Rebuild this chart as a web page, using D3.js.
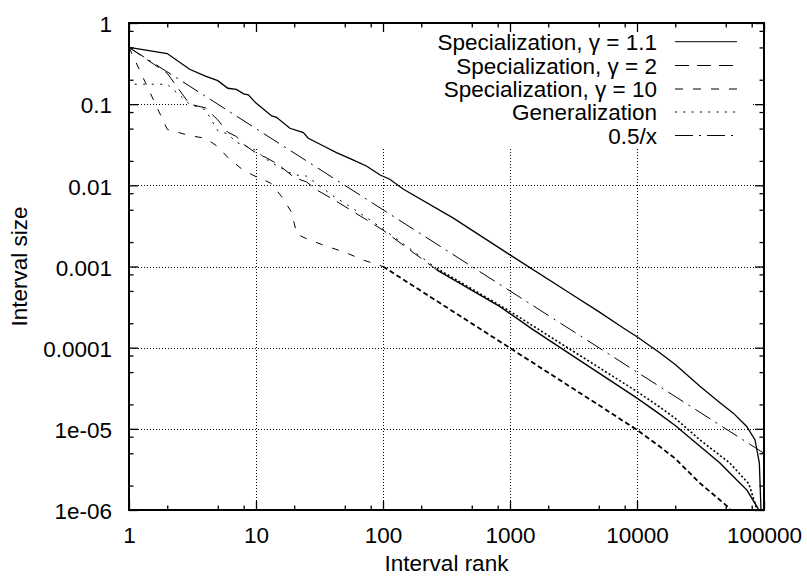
<!DOCTYPE html>
<html>
<head>
<meta charset="utf-8">
<script src="https://cdn.jsdelivr.net/npm/d3@7"></script>
<style>
  body { margin: 0; background: #fff; }
  text { font-family: "Liberation Sans", Arial, Helvetica, sans-serif; }
</style>
</head>
<body>
<div id="chart"></div>
<script>
// ---- data ----
var seriesNames = ["Specialization, \u03b3 = 1.1", "Specialization, \u03b3 = 2",
                   "Specialization, \u03b3 = 10", "Generalization", "0.5/x"];

var rankG11 = [1,2,3,4,5,6,7,8,8.7,10,13.3,14.5,18.5,23.6,25.8,34,43,58,74,95,113,145,358,1000,2966,5000,7800,10000,15000,20000,31300,45000,57300,73100,85000,91900,94700];
var sizeG11 = [0.5,0.42,0.269,0.222,0.195,0.157,0.152,0.134,0.130,0.103,0.0716,0.0688,0.0505,0.0446,0.038,0.0305,0.0253,0.0206,0.0173,0.0134,0.0119,0.00895,0.00394,0.00139,0.000469,0.000278,0.000175,0.000136,0.000087,0.000062,0.0000335,0.000021,0.0000156,0.0000107,0.0000073,0.0000038,0.000001];

var rankG2 = [1,2,3,4,5,6,7,8,10,12,15,20,25,30,40,50,60,80,100,265,834,1527,10000,15000,20000,31300,45000,57300,73100,88000,91000];
var sizeG2 = [0.5,0.24,0.1,0.09,0.064,0.045,0.04,0.032,0.025,0.022,0.018,0.0125,0.011,0.0088,0.0068,0.0055,0.0046,0.0035,0.0028,0.00091,0.00032,0.000166,0.0000239,0.0000153,0.000011,0.0000061,0.0000038,0.00000259,0.00000177,0.0000011,0.000001];

var rankG10 = [1,2,3,4,5,6,8,10,13,16,19,21,25,35,50,70,100,1000,5000,10000,15000,20000,31300,53700,57000];
var sizeG10 = [0.5,0.049,0.041,0.038,0.030,0.022,0.0152,0.0128,0.0107,0.0072,0.0047,0.0025,0.0022,0.0018,0.0015,0.0012,0.001,0.000099,0.0000196,0.0000097,0.0000061,0.0000043,0.00000214,0.00000105,0.0000008];

var rankGen = [1,1,2,3,4,5,6,7,8,10,12,15,20,25,30,40,50,60,80,100,265,1000,10000,15000,20000,31300,53700,76000,86500,89000];
var sizeGen = [0.5,0.176,0.176,0.1,0.085,0.047,0.043,0.034,0.031,0.027,0.021,0.017,0.0135,0.013,0.0105,0.0075,0.006,0.005,0.0037,0.0029,0.00095,0.00028,0.0000288,0.0000187,0.0000135,0.0000073,0.0000038,0.0000021,0.0000011,0.0000009];

var rankRef = [1, 100000];
var sizeRef = [0.5, 0.000005];

var xTicks = [1, 10, 100, 1000, 10000, 100000];
var xTickLabels = ["1", "10", "100", "1000", "10000", "100000"];
var yTicks = [1, 0.1, 0.01, 0.001, 0.0001, 0.00001, 0.000001];
var yTickLabels = ["1", "0.1", "0.01", "0.001", "0.0001", "1e-05", "1e-06"];
var minorSteps = [2, 5, 8];

function init(){
    var w = 807, h = 577;
    var left = 129, right = 764, top = 23, bottom = 510;

    var x = d3.scaleLog().domain([1, 100000]).range([left, right]);
    var y = d3.scaleLog().domain([0.000001, 1]).range([bottom, top]);

    var svg = d3.select("#chart").append("svg")
                .attr("width", w)
                .attr("height", h);

    // minor tick values
    var xMinor = [], yMinor = [];
    xTicks.slice(0, -1).forEach(function(t){ minorSteps.forEach(function(m){ xMinor.push(t*m); }); });
    yTicks.slice(1).forEach(function(t){ minorSteps.forEach(function(m){ yMinor.push(t*m); }); });

    // grid
    var grid = svg.append("g").attr("stroke", "#000").attr("stroke-width", 1)
                  .attr("stroke-dasharray", "1,2");
    xTicks.slice(1, -1).forEach(function(t){
        grid.append("line").attr("x1", Math.round(x(t)) + 0.5).attr("x2", Math.round(x(t)) + 0.5)
            .attr("y1", bottom).attr("y2", top);
    });
    yTicks.slice(1, -1).forEach(function(t){
        grid.append("line").attr("y1", Math.round(y(t)) + 0.5).attr("y2", Math.round(y(t)) + 0.5)
            .attr("x1", left).attr("x2", right);
    });

    // opaque key box (hides grid underneath)
    svg.append("rect").attr("x", 187).attr("y", top).attr("width", 752 - 187).attr("height", 147 - top)
       .attr("fill", "#fff");

    // curves
    svg.append("clipPath").attr("id", "plotclip").append("rect")
       .attr("x", left).attr("y", top).attr("width", right - left).attr("height", bottom - top);

    var line = d3.line().x(function(d){ return x(d[0]); }).y(function(d){ return y(d[1]); });

    var series = [
        {xs: rankG11, ys: sizeG11, split: 0,  dash: null,      denseDash: null,    width: 1.1, denseWidth: 1.3},
        {xs: rankG2,  ys: sizeG2,  split: 19, dash: "14,8",    denseDash: null,    width: 1,   denseWidth: 1.4},
        {xs: rankG10, ys: sizeG10, split: 16, dash: "7,10",    denseDash: "5,3",   width: 1,   denseWidth: 1.8},
        {xs: rankGen, ys: sizeGen, split: 20, dash: "2,6.5",   denseDash: "2,2.2", width: 1,   denseWidth: 1.6},
        {xs: rankRef, ys: sizeRef, split: 1,  dash: "18,6,2,6", denseDash: null,   width: 1,   denseWidth: 1}
    ];

    var curves = svg.append("g").attr("clip-path", "url(#plotclip)")
                    .attr("fill", "none").attr("stroke", "#000");
    series.forEach(function(s){
        var pts = s.xs.map(function(v, i){ return [v, s.ys[i]]; });
        var a = pts.slice(0, s.split + 1), b = pts.slice(s.split);
        if (a.length > 1) {
            curves.append("path").attr("d", line(a)).attr("stroke-width", s.width)
                  .attr("stroke-dasharray", s.dash);
        }
        if (b.length > 1) {
            curves.append("path").attr("d", line(b)).attr("stroke-width", s.denseWidth)
                  .attr("stroke-dasharray", s.denseDash);
        }
    });

    // axes (ticks inward on all four sides)
    function styleAxis(g){
        g.select(".domain").remove();
        g.selectAll("line").attr("stroke", "#000").attr("stroke-width", 1.3);
        g.selectAll("text").attr("font-family", "'Liberation Sans', Arial, Helvetica, sans-serif")
         .attr("font-size", 22.5).attr("fill", "#000");
    }
    svg.append("g").attr("transform", "translate(0," + bottom + ")")
       .call(d3.axisBottom(x).tickValues(xTicks).tickSize(-9).tickPadding(17)
                .tickFormat(function(d, i){ return xTickLabels[i]; }))
       .call(styleAxis);
    svg.append("g").attr("transform", "translate(0," + bottom + ")")
       .call(d3.axisBottom(x).tickValues(xMinor).tickSize(-4.5).tickFormat(""))
       .call(styleAxis);
    svg.append("g").attr("transform", "translate(0," + top + ")")
       .call(d3.axisTop(x).tickValues(xTicks).tickSize(-9).tickFormat(""))
       .call(styleAxis);
    svg.append("g").attr("transform", "translate(0," + top + ")")
       .call(d3.axisTop(x).tickValues(xMinor).tickSize(-4.5).tickFormat(""))
       .call(styleAxis);
    svg.append("g").attr("transform", "translate(" + left + ",0)")
       .call(d3.axisLeft(y).tickValues(yTicks).tickSize(-9).tickPadding(17)
                .tickFormat(function(d, i){ return yTickLabels[i]; }))
       .call(styleAxis)
       .selectAll("text").attr("dy", "0.39em");
    svg.append("g").attr("transform", "translate(" + left + ",0)")
       .call(d3.axisLeft(y).tickValues(yMinor).tickSize(-4.5).tickFormat(""))
       .call(styleAxis);
    svg.append("g").attr("transform", "translate(" + right + ",0)")
       .call(d3.axisRight(y).tickValues(yTicks).tickSize(-9).tickFormat(""))
       .call(styleAxis);
    svg.append("g").attr("transform", "translate(" + right + ",0)")
       .call(d3.axisRight(y).tickValues(yMinor).tickSize(-4.5).tickFormat(""))
       .call(styleAxis);

    // border
    svg.append("rect").attr("x", left).attr("y", top).attr("width", right - left).attr("height", bottom - top)
       .attr("fill", "none").attr("stroke", "#000").attr("stroke-width", 2);

    // axis titles
    svg.append("text").attr("x", (left + right) / 2).attr("y", 571)
       .attr("text-anchor", "middle").attr("font-size", 22.5).text("Interval rank");
    svg.append("text").attr("transform", "translate(26.5," + (top + bottom) / 2 + ") rotate(-90)")
       .attr("text-anchor", "middle").attr("font-size", 22.5).text("Interval size");

    // key
    var keyRows = [41.7, 65.5, 89, 112, 135.5];
    var keyDash = [null, "14,8", "8,10", "2,6.3", "18,6,2,6"];
    var key = svg.append("g");
    seriesNames.forEach(function(name, i){
        key.append("text").attr("x", 657).attr("y", keyRows[i] + 8)
           .attr("text-anchor", "end").attr("font-size", 22.5).text(name);
        key.append("line").attr("x1", 675).attr("x2", 737)
           .attr("y1", keyRows[i]).attr("y2", keyRows[i])
           .attr("stroke", "#000").attr("stroke-width", 1)
           .attr("stroke-dasharray", keyDash[i]);
    });
}
window.onload = init;
</script>
</body>
</html>
